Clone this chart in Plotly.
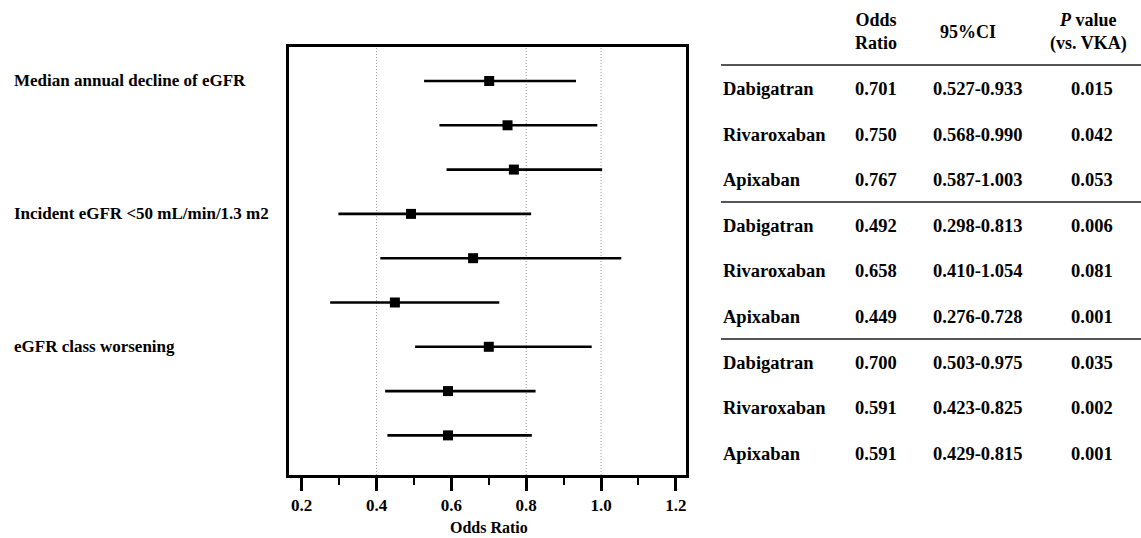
import plotly.graph_objects as go

# ---------------- data ----------------
outcomes = ["Median annual decline of eGFR",
            "Incident eGFR <50 mL/min/1.3 m2",
            "eGFR class worsening"]
drugs = ["Dabigatran", "Rivaroxaban", "Apixaban"] * 3
odds = [0.701, 0.750, 0.767, 0.492, 0.658, 0.449, 0.700, 0.591, 0.591]
lower = [0.527, 0.568, 0.587, 0.298, 0.410, 0.276, 0.503, 0.423, 0.429]
upper = [0.933, 0.990, 1.003, 0.813, 1.054, 0.728, 0.975, 0.825, 0.815]
pvals = ["0.015", "0.042", "0.053", "0.006", "0.081", "0.001", "0.035", "0.002", "0.001"]
x_ticks = [0.2, 0.4, 0.6, 0.8, 1.0, 1.2]
grid_lines = [0.4, 0.8, 1.0]
headers = ["Odds<br>Ratio", "95%CI", "<i>P</i> value<br>(vs. VKA)"]
x_title = "Odds Ratio"

# ---------------- layout helpers ----------------
W, H = 1141, 538
L, R, T, B = 289, 686, 47, 475  # plot frame in pixels


def px(xp):
    return (xp - L) / (R - L)


def py(yp):
    return (B - yp) / (B - T)


FONT = "Liberation Serif"
rows = list(range(len(odds)))

fig = go.Figure()
fig.add_trace(go.Scatter(
    x=odds, y=rows, mode="markers",
    marker=dict(symbol="square", size=10, color="black"),
    error_x=dict(type="data", symmetric=False,
                 array=[u - o for u, o in zip(upper, odds)],
                 arrayminus=[o - l for o, l in zip(odds, lower)],
                 width=0, thickness=2.6, color="black"),
    showlegend=False, hoverinfo="skip"))

shapes = []
for g in grid_lines:
    shapes.append(dict(type="line", xref="x", yref="paper", x0=g, x1=g, y0=0, y1=1,
                       line=dict(color="#999999", width=1, dash="1px,2px"), layer="below"))

# table rules
for yrule in [65, 202, 339]:
    shapes.append(dict(type="line", xref="paper", yref="paper",
                       x0=px(721), x1=px(W), y0=py(yrule), y1=py(yrule),
                       line=dict(color="#555555", width=2)))

annotations = []
# left outcome labels
for i, name in enumerate(outcomes):
    annotations.append(dict(text=name, xref="paper", yref="y", x=px(12), y=i * 3,
                            xanchor="left", yanchor="middle", showarrow=False,
                            font=dict(family=FONT, size=17, color="black", weight="bold")))

# x-axis title
annotations.append(dict(text=x_title, xref="paper", yref="paper", x=px(489), y=py(527),
                        xanchor="center", yanchor="middle", showarrow=False,
                        font=dict(family=FONT, size=16, color="black", weight="bold")))

# table headers
hdr_x = [876, 968, 1088]
for h, hx in zip(headers, hdr_x):
    annotations.append(dict(text=h, xref="paper", yref="paper", x=px(hx), y=py(32),
                            xanchor="center", yanchor="middle", showarrow=False,
                            font=dict(family=FONT, size=18, color="black", weight="bold")))

# table body
row_y0, row_step = 89, 45.6
for i in rows:
    yy = py(row_y0 + row_step * i)
    f = dict(family=FONT, size=18.5, color="black", weight="bold")
    annotations.append(dict(text=drugs[i], xref="paper", yref="paper", x=px(721), y=yy,
                            xanchor="left", yanchor="middle", showarrow=False, font=f))
    annotations.append(dict(text=f"{odds[i]:.3f}", xref="paper", yref="paper", x=px(876), y=yy,
                            xanchor="center", yanchor="middle", showarrow=False, font=f))
    annotations.append(dict(text=f"{lower[i]:.3f}-{upper[i]:.3f}", xref="paper", yref="paper",
                            x=px(977), y=yy, xanchor="center", yanchor="middle",
                            showarrow=False, font=f))
    annotations.append(dict(text=pvals[i], xref="paper", yref="paper", x=px(1092), y=yy,
                            xanchor="center", yanchor="middle", showarrow=False, font=f))

fig.update_layout(
    template="none",
    width=W, height=H,
    margin=dict(l=L, r=W - R, t=T, b=H - B, pad=0, autoexpand=False),
    plot_bgcolor="white", paper_bgcolor="white",
    shapes=shapes, annotations=annotations,
    xaxis=dict(range=[0.166, 1.227], tickvals=x_ticks, automargin=False,
               ticktext=[f"{v:.1f}" for v in x_ticks],
               ticks="outside", ticklen=13, tickwidth=3, tickcolor="black",
               showline=True, linewidth=3, linecolor="black", mirror=True,
               showgrid=False, zeroline=False,
               minor=dict(tickvals=[0.3, 0.5, 0.7, 0.9, 1.1], ticks="outside",
                          ticklen=7, tickwidth=1.5, tickcolor="black", showgrid=False),
               tickfont=dict(family=FONT, size=17, color="black", weight="bold")),
    yaxis=dict(range=[8.894, -0.767], showticklabels=False, ticks="", automargin=False,
               showline=True, linewidth=3, linecolor="black", mirror=True,
               showgrid=False, zeroline=False),
)

fig.write_html("out.html", config={"displayModeBar": False},
               post_script="document.body.style.margin='0';document.body.style.overflow='hidden';")
